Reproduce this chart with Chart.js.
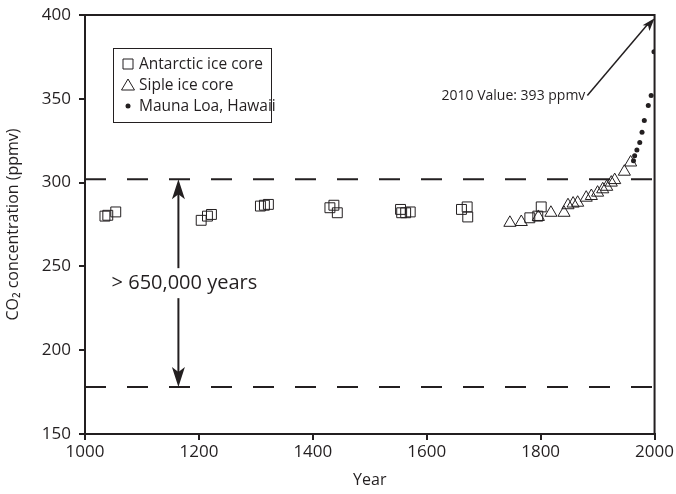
<!DOCTYPE html>
<html>
<head>
<meta charset="utf-8">
<script src="https://cdn.jsdelivr.net/npm/chart.js@4"></script>
<style>
  html, body { margin: 0; padding: 0; background: #fff; }
  canvas { display: block; }
</style>
</head>
<body>
<canvas id="co2Chart" width="676" height="494"></canvas>
<script>
// --- data ---
const antarcticYears = [1035, 1040, 1054, 1204, 1215, 1222, 1308, 1315, 1322, 1430, 1437, 1443, 1554, 1556, 1563, 1571, 1661, 1671, 1672, 1781, 1795, 1801];
const antarcticPpm   = [280, 280.5, 282.5, 277.5, 280, 281, 286, 286.5, 287, 285, 286.5, 282, 284, 282, 282, 282.5, 284, 285.5, 279.5, 279, 280, 285.5];

const sipleYears = [1746, 1766, 1796, 1818, 1841, 1848, 1857, 1865, 1880, 1889, 1900, 1909, 1916, 1924, 1930, 1947, 1958];
const siplePpm   = [276, 276.5, 279.5, 282, 282, 286.5, 287.5, 288, 291, 292, 294, 296, 297.5, 300, 301.5, 306.5, 312];

const maunaYears = [1963, 1965, 1969, 1974, 1978, 1982, 1989, 1994, 1999];
const maunaPpm   = [313, 316, 319.5, 324, 330, 337, 346, 352, 378];

const rangeHigh = 302;
const rangeLow = 178;
const rangeArrowYear = 1164;
const rangeLabel = '> 650,000 years';

const note2010 = '2010 Value: 393 ppmv';
const noteFrom = [1882, 352];
const noteTip = [2000, 398];

const xTicks = [1000, 1200, 1400, 1600, 1800, 2000];
const yTicks = [150, 200, 250, 300, 350, 400];

const legendLabels = ['Antarctic ice core', 'Siple ice core', 'Mauna Loa, Hawaii'];

const INK = '#231f20';
const FONT = "'Open Sans', sans-serif";

function pts(xs, ys) {
    return xs.map((x, i) => ({ x: x, y: ys[i] }));
}

// draw a small marker like the chart's own
function marker(ctx, kind, x, y) {
    ctx.save();
    ctx.strokeStyle = INK;
    ctx.fillStyle = INK;
    ctx.lineWidth = 1;
    ctx.beginPath();
    if (kind === 'rect') {
        ctx.rect(x - 5, y - 5, 10, 10);
        ctx.stroke();
    } else if (kind === 'triangle') {
        ctx.moveTo(x, y - 6);
        ctx.lineTo(x + 6.5, y + 5);
        ctx.lineTo(x - 6.5, y + 5);
        ctx.closePath();
        ctx.stroke();
    } else {
        ctx.arc(x, y, 2.5, 0, Math.PI * 2);
        ctx.fill();
    }
    ctx.restore();
}

function arrowHead(ctx, x0, y0, x1, y1, len, half) {
    const a = Math.atan2(y1 - y0, x1 - x0);
    ctx.beginPath();
    ctx.moveTo(x1, y1);
    ctx.lineTo(x1 - len * Math.cos(a) + half * Math.sin(a), y1 - len * Math.sin(a) - half * Math.cos(a));
    ctx.lineTo(x1 - len * 0.75 * Math.cos(a), y1 - len * 0.75 * Math.sin(a));
    ctx.lineTo(x1 - len * Math.cos(a) - half * Math.sin(a), y1 - len * Math.sin(a) + half * Math.cos(a));
    ctx.closePath();
    ctx.fill();
}

// frame, arrows, text notes and the boxed legend
const decorations = {
    id: 'decorations',
    afterDatasetsDraw(chart) {
        const ctx = chart.ctx;
        const area = chart.chartArea;
        const xs = chart.scales.x, ys = chart.scales.y;

        ctx.save();
        ctx.strokeStyle = INK;
        ctx.fillStyle = INK;

        // top + right border
        ctx.lineWidth = 2;
        ctx.beginPath();
        ctx.moveTo(area.left, area.top);
        ctx.lineTo(area.right, area.top);
        ctx.lineTo(area.right, area.bottom);
        ctx.stroke();

        // double arrow for the 650k-year range
        const ax = xs.getPixelForValue(rangeArrowYear);
        const yHi = ys.getPixelForValue(rangeHigh);
        const yLo = ys.getPixelForValue(rangeLow);
        ctx.lineWidth = 2;
        ctx.beginPath();
        ctx.moveTo(ax, yHi + 10);
        ctx.lineTo(ax, yLo - 10);
        ctx.stroke();
        arrowHead(ctx, ax, yLo, ax, yHi, 20, 6.5);
        arrowHead(ctx, ax, yHi, ax, yLo, 20, 6.5);

        const midY = ys.getPixelForValue(240);
        ctx.font = '20px ' + FONT;
        const tw = ctx.measureText(rangeLabel).width;
        ctx.fillStyle = '#fff';
        ctx.fillRect(ax + 6 - tw / 2 - 4, midY - 15, tw + 8, 30);
        ctx.fillStyle = INK;
        ctx.textAlign = 'center';
        ctx.textBaseline = 'middle';
        ctx.fillText(rangeLabel, ax + 6, midY);

        // 2010 note with arrow
        const fx = xs.getPixelForValue(noteFrom[0]), fy = ys.getPixelForValue(noteFrom[1]);
        const tx = xs.getPixelForValue(noteTip[0]), ty = ys.getPixelForValue(noteTip[1]);
        ctx.font = '14px ' + FONT;
        ctx.textAlign = 'right';
        ctx.fillText(note2010, fx - 2, fy + 1);
        ctx.lineWidth = 1.5;
        ctx.beginPath();
        ctx.moveTo(fx, fy);
        ctx.lineTo(tx - 6, ty + 5);
        ctx.stroke();
        arrowHead(ctx, fx, fy, tx, ty, 13, 4.5);

        // legend box
        const lx = area.left + 28, ly = area.top + 33;
        ctx.lineWidth = 1;
        ctx.strokeRect(lx + 0.5, ly + 0.5, 158, 74);
        const kinds = ['rect', 'triangle', 'circle'];
        ctx.font = '15.5px ' + FONT;
        ctx.textAlign = 'left';
        legendLabels.forEach((lab, i) => {
            const rowY = ly + 16 + i * 21;
            marker(ctx, kinds[i], lx + 15, rowY);
            ctx.fillText(lab, lx + 26, rowY + 1);
        });

        ctx.restore();
    }
};

const dashStyle = {
    type: 'line',
    borderColor: INK,
    borderWidth: 2,
    borderDash: [21, 21],
    pointRadius: 0,
    fill: false
};

const chart = new Chart(document.getElementById('co2Chart').getContext('2d'), {
    type: 'scatter',
    data: {
        datasets: [
            Object.assign({ label: 'upper', data: [{ x: 1000, y: rangeHigh }, { x: 2000, y: rangeHigh }] }, dashStyle),
            Object.assign({ label: 'lower', data: [{ x: 1000, y: rangeLow }, { x: 2000, y: rangeLow }] }, dashStyle),
            {
                label: legendLabels[0],
                data: pts(antarcticYears, antarcticPpm),
                pointStyle: 'rect',
                pointRadius: 7,
                borderColor: INK,
                borderWidth: 1,
                backgroundColor: 'rgba(0,0,0,0)'
            },
            {
                label: legendLabels[1],
                data: pts(sipleYears, siplePpm),
                pointStyle: 'triangle',
                pointRadius: 7,
                borderColor: INK,
                borderWidth: 1,
                backgroundColor: 'rgba(0,0,0,0)'
            },
            {
                label: legendLabels[2],
                data: pts(maunaYears, maunaPpm),
                pointStyle: 'circle',
                pointRadius: 2.5,
                borderWidth: 0,
                backgroundColor: INK
            }
        ]
    },
    options: {
        responsive: false,
        animation: false,
        devicePixelRatio: 1,
        layout: { padding: { top: 15, right: 19, left: 0, bottom: 0 } },
        plugins: {
            legend: { display: false },
            tooltip: { enabled: false }
        },
        scales: {
            x: {
                type: 'linear',
                min: 1000,
                max: 2000,
                afterBuildTicks: s => { s.ticks = xTicks.map(v => ({ value: v })); },
                afterFit: s => { s.height = 60; },
                grid: { display: true, drawOnChartArea: false, drawTicks: true, tickLength: 6, color: INK, lineWidth: 2 },
                border: { display: true, color: INK, width: 2 },
                ticks: { color: INK, font: { family: FONT, size: 17 }, padding: 2, maxRotation: 0, callback: v => String(v) },
                title: { display: true, text: 'Year', color: INK, font: { family: FONT, size: 16 }, padding: { top: 0 } }
            },
            y: {
                type: 'linear',
                min: 150,
                max: 400,
                afterBuildTicks: s => { s.ticks = yTicks.map(v => ({ value: v })); },
                afterFit: s => { s.width = 85; s.paddingTop = 0; s.paddingBottom = 0; },
                grid: { display: true, drawOnChartArea: false, drawTicks: true, tickLength: 6, color: INK, lineWidth: 2 },
                border: { display: true, color: INK, width: 2 },
                ticks: { color: INK, font: { family: FONT, size: 17 }, padding: 8, callback: v => String(v) },
                title: { display: true, text: 'CO\u2082 concentration (ppmv)', color: INK, font: { family: FONT, size: 16 }, padding: { bottom: 4 } }
            }
        }
    },
    plugins: [decorations]
});
</script>
</body>
</html>
